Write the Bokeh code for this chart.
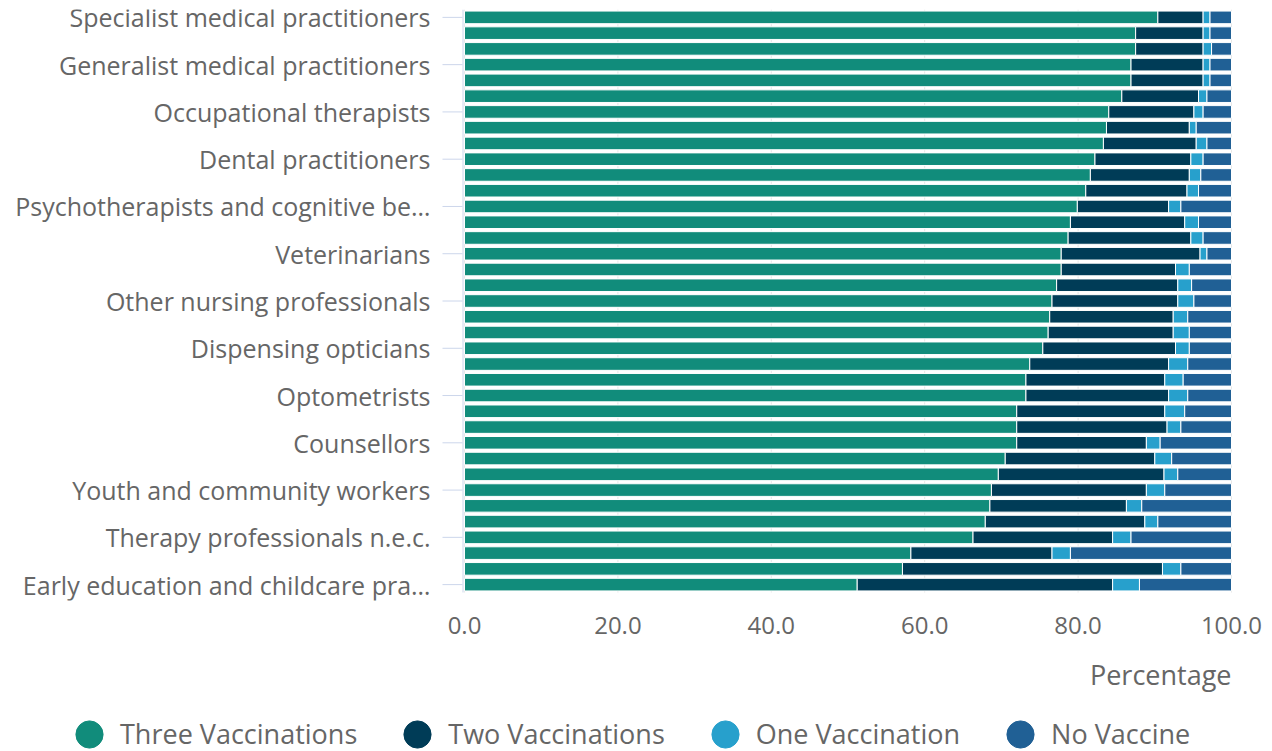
from bokeh.plotting import figure
from bokeh.layouts import column
from bokeh.models import (ColumnDataSource, Range1d, FixedTicker, NumeralTickFormatter,
                          Legend, LegendItem, Label)
from bokeh.core.properties import value
from bokeh.embed import file_html
from bokeh.resources import INLINE

# ---- data -------------------------------------------------------------
categories = [
    "Specialist medical practitioners", "", "",
    "Generalist medical practitioners", "", "",
    "Occupational therapists", "", "",
    "Dental practitioners", "", "",
    "Psychotherapists and cognitive be\u2026", "", "",
    "Veterinarians", "", "",
    "Other nursing professionals", "", "",
    "Dispensing opticians", "", "",
    "Optometrists", "", "",
    "Counsellors", "", "",
    "Youth and community workers", "", "",
    "Therapy professionals n.e.c.", "", "",
    "Early education and childcare pra\u2026",
]
three = [90.4, 87.5, 87.5, 86.9, 86.9, 85.7, 84.0, 83.7, 83.3, 82.2, 81.6, 81.0, 79.9,
         79.0, 78.7, 77.8, 77.8, 77.2, 76.6, 76.3, 76.1, 75.4, 73.7, 73.2, 73.2, 72.0,
         72.0, 72.0, 70.5, 69.6, 68.7, 68.5, 67.9, 66.3, 58.2, 57.1, 51.2]
two = [5.9, 8.8, 8.8, 9.4, 9.4, 10.0, 11.1, 10.8, 12.1, 12.5, 12.9, 13.2, 11.9,
       14.9, 16.0, 18.1, 14.9, 15.8, 16.4, 16.1, 16.3, 17.3, 18.1, 18.1, 18.6, 19.3,
       19.6, 16.9, 19.5, 21.6, 20.2, 17.8, 20.8, 18.2, 18.4, 33.9, 33.3]
one = [0.9, 0.9, 1.1, 0.9, 0.9, 1.1, 1.2, 0.9, 1.4, 1.6, 1.5, 1.5, 1.6,
       1.8, 1.6, 0.9, 1.8, 1.8, 2.1, 1.9, 2.1, 1.8, 2.5, 2.4, 2.5, 2.6,
       1.8, 1.8, 2.2, 1.8, 2.4, 2.0, 1.7, 2.4, 2.4, 2.4, 3.5]
none_ = [2.8, 2.8, 2.6, 2.8, 2.8, 3.2, 3.7, 4.6, 3.2, 3.7, 4.0, 4.3, 6.6,
         4.3, 3.7, 3.2, 5.5, 5.2, 4.9, 5.7, 5.5, 5.5, 5.7, 6.3, 5.7, 6.1,
         6.6, 9.3, 7.8, 7.0, 8.7, 11.7, 9.6, 13.1, 21.0, 6.6, 12.0]
series_names = ["Three Vaccinations", "Two Vaccinations", "One Vaccination", "No Vaccine"]
colors = ["#118c7b", "#003c57", "#27a0cc", "#206095"]
x_ticks = [0, 20, 40, 60, 80, 100]
x_title = "Percentage"

# ---- layout / style constants (pixels) ---------------------------------
W = 1272
TOP_H = 650                 # chart strip height
LEG_H = 751 - TOP_H         # legend strip height
PLOT_L, PLOT_R = 464, 1231  # pixel extent of 0..100
PLOT_T, PLOT_B = 9, 592     # pixel extent of the category band
FRAME_B = 600               # frame bottom (a little room for the last label)
FONT = "Open Sans"
GREY = "#666666"
AXIS_C = "#ccd6eb"

n = len(categories)
s = (PLOT_R - PLOT_L) / 100.0          # px per percentage unit
px = lambda v: (v - PLOT_L) / s        # pixel -> data x
row_px = (PLOT_B - PLOT_T) / n
y_lo, y_hi = -0.5, n - 0.5

rows = list(range(n))
src = ColumnDataSource(dict(row=rows, three=three, two=two, one=one, none=none_))
lab_rows = [i for i, c in enumerate(categories) if c]
lab_src = ColumnDataSource(dict(row=lab_rows, name=[categories[i] for i in lab_rows]))

p = figure(width=W, height=TOP_H, output_backend="svg", toolbar_location=None,
           x_range=Range1d(px(0), px(W)),
           y_range=Range1d(y_hi + (FRAME_B - PLOT_B) / row_px, y_lo),
           y_axis_type=None,
           min_border_left=0, min_border_right=0, min_border_top=PLOT_T,
           min_border_bottom=TOP_H - FRAME_B)
p.outline_line_color = None
p.xgrid.grid_line_color = None

# vertical grid lines over the category band
p.segment(x0=x_ticks, x1=x_ticks, y0=y_lo, y1=y_hi, line_color="#e6e6e6", line_width=1)

p.hbar_stack(["three", "two", "one", "none"], y="row", height=0.8, color=colors,
             source=src, line_color="white", line_width=1)

# category axis (line, ticks, labels)
p.segment(x0=px(PLOT_L - 1.5), x1=px(PLOT_L - 1.5), y0=y_lo, y1=y_hi,
          line_color=AXIS_C, line_width=1)
p.segment(x0=px(442), x1=px(462), y0="row", y1="row", source=lab_src,
          line_color=AXIS_C, line_width=1)
p.text(x=px(430), y="row", text="name", source=lab_src, text_align="right",
       text_baseline="middle", text_font=value(FONT), text_font_size="25px",
       text_color=GREY)

# value axis
xa = p.xaxis[0]
xa.ticker = FixedTicker(ticks=x_ticks)
xa.formatter = NumeralTickFormatter(format="0.0")
xa.axis_line_color = None
xa.major_tick_line_color = None
xa.minor_tick_line_color = None
xa.major_label_standoff = 10
xa.major_label_text_font = FONT
xa.major_label_text_font_size = "24px"
xa.major_label_text_color = GREY

# ---- strip with axis title and legend -------------------------------------
lg = figure(width=W, height=LEG_H, output_backend="svg", toolbar_location=None,
            x_range=Range1d(0, W), y_range=Range1d(LEG_H, 0),
            min_border_left=0, min_border_right=0, min_border_top=0,
            min_border_bottom=0, x_axis_type=None, y_axis_type=None)
lg.outline_line_color = None
lg.grid.grid_line_color = None

lg.add_layout(Label(x=PLOT_R, y=674 - TOP_H, text=x_title, text_align="right",
                    text_baseline="middle", text_font=FONT, text_font_size="27px",
                    text_color=GREY))

items = []
for name, c in zip(series_names, colors):
    r = lg.ellipse(x=[-1000], y=[0], width=[27], height=[27], width_units="screen",
                   height_units="screen", fill_color=c, line_color=c)
    items.append(LegendItem(label=name, renderers=[r]))
legend = Legend(items=items, orientation="horizontal", location=(72, -1),
                glyph_width=34, glyph_height=34, label_standoff=14, spacing=43,
                padding=0, margin=0, border_line_alpha=0, background_fill_alpha=0,
                label_text_font=FONT, label_text_font_size="27px",
                label_text_color=GREY)
lg.add_layout(legend, "center")

layout = column(p, lg, spacing=0)
open("out.html", "w").write(file_html(layout, INLINE))
